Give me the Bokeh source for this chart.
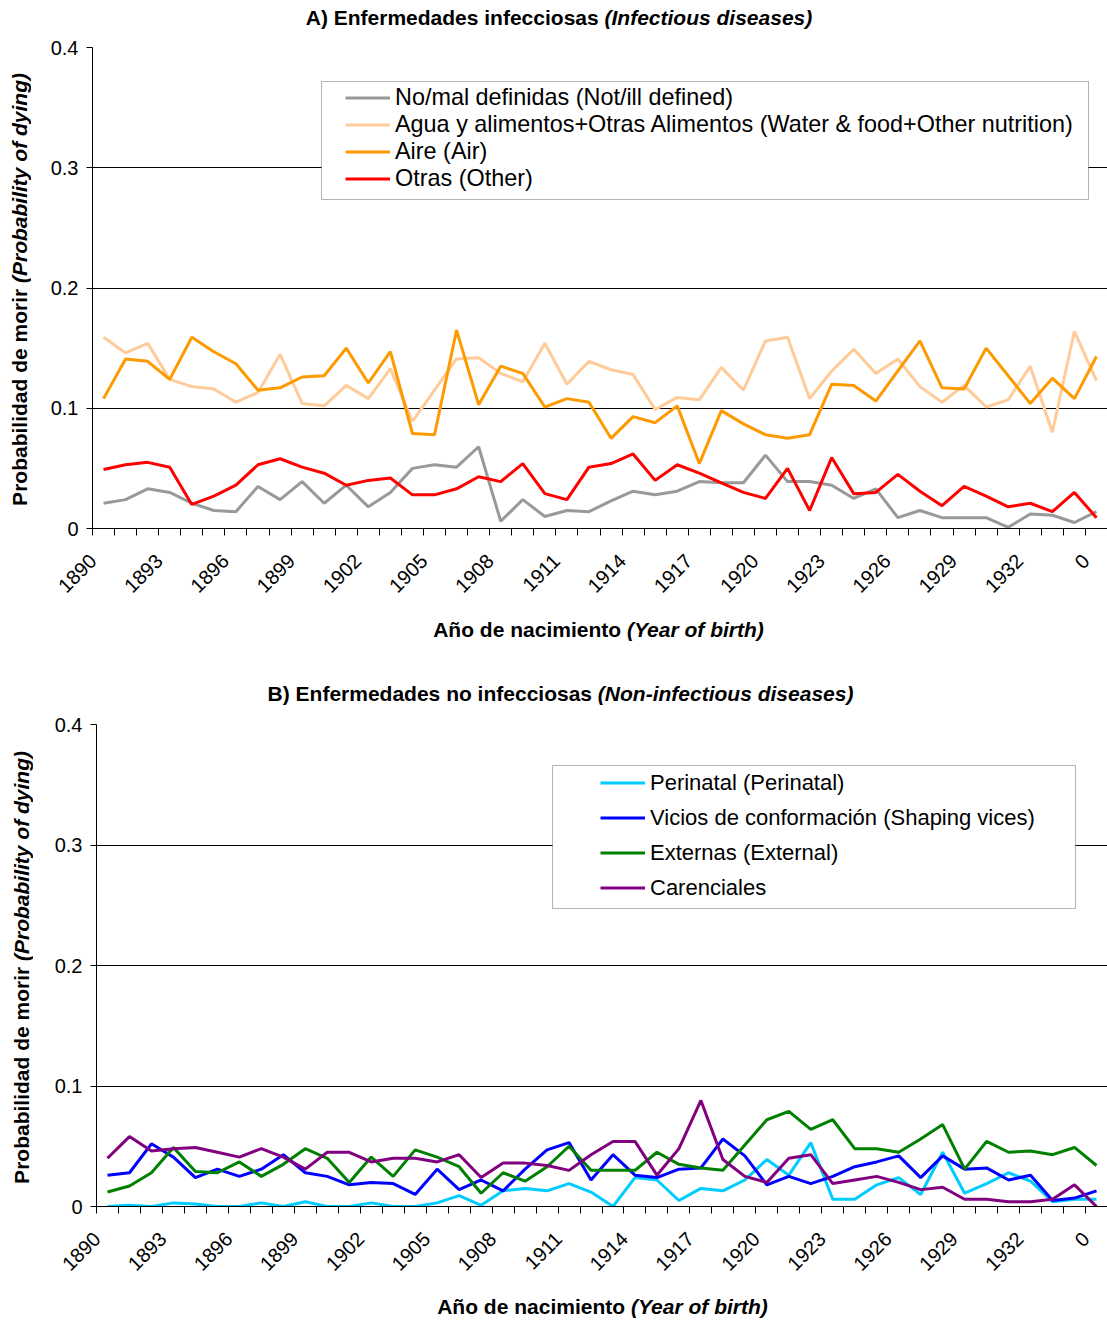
import math
from bokeh.plotting import figure
from bokeh.models import Range1d, FixedTicker, Legend, LegendItem, BoxAnnotation, NumeralTickFormatter, Div
from bokeh.layouts import column, row
from bokeh.embed import file_html
from bokeh.resources import INLINE

# ---------------- data ----------------
categories = ["1890", "1891", "1892", "1893", "1894", "1895", "1896", "1897", "1898", "1899",
              "1900", "1901", "1902", "1903", "1904", "1905", "1906", "1907", "1908", "1909",
              "1910", "1911", "1912", "1913", "1914", "1915", "1916", "1917", "1918", "1919",
              "1920", "1921", "1922", "1923", "1924", "1925", "1926", "1927", "1928", "1929",
              "1930", "1931", "1932", "1933", "1934", "0"]

# Panel A
no_mal = [0.021, 0.024, 0.033, 0.030, 0.021, 0.015, 0.014, 0.035, 0.024, 0.039, 0.021, 0.036, 0.018, 0.030,
          0.050, 0.053, 0.051, 0.068, 0.006, 0.024, 0.010, 0.015,
          0.014, 0.023, 0.031, 0.028, 0.031, 0.039, 0.038, 0.038, 0.061, 0.039, 0.039, 0.036, 0.025, 0.033,
          0.009, 0.015, 0.009, 0.009, 0.009, 0.001, 0.012, 0.011, 0.005, 0.014]
agua = [0.159, 0.146, 0.154, 0.124, 0.118, 0.116, 0.105, 0.113, 0.145, 0.104, 0.102, 0.119, 0.108, 0.133,
        0.089, 0.115, 0.141, 0.142, 0.129, 0.122, 0.154,
        0.120, 0.139, 0.132, 0.128, 0.099, 0.109, 0.107, 0.134, 0.115, 0.156, 0.159, 0.108, 0.131, 0.149,
        0.129, 0.141, 0.118, 0.105, 0.119, 0.101, 0.107, 0.135, 0.080, 0.164, 0.123]
aire = [0.108, 0.141, 0.139, 0.124, 0.159, 0.147, 0.137, 0.115, 0.117, 0.126, 0.127, 0.150, 0.121, 0.147,
        0.079, 0.078, 0.165, 0.103, 0.135, 0.129, 0.101,
        0.108, 0.105, 0.075, 0.093, 0.088, 0.102, 0.054, 0.098, 0.087, 0.078, 0.075, 0.078, 0.120, 0.119,
        0.106, 0.131, 0.156, 0.117, 0.116, 0.150, 0.127, 0.104, 0.125, 0.108, 0.143]
otras = [0.049, 0.053, 0.055, 0.051, 0.020, 0.027, 0.036, 0.053, 0.058, 0.051, 0.046, 0.036, 0.040, 0.042,
         0.028, 0.028, 0.033, 0.043, 0.039, 0.054, 0.029,
         0.024, 0.051, 0.054, 0.062, 0.040, 0.053, 0.046, 0.038, 0.030, 0.025, 0.050, 0.015, 0.059, 0.029,
         0.030, 0.045, 0.031, 0.019, 0.035, 0.027, 0.018, 0.021, 0.014, 0.030, 0.009]

# Panel B
perinatal = [0.000, 0.001, 0.000, 0.003, 0.002, 0.000, 0.000, 0.003, 0.000, 0.004, 0.000, 0.000, 0.003, 0.000,
             0.000, 0.003, 0.009, 0.001, 0.013, 0.015,
             0.013, 0.019, 0.012, 0.000, 0.024, 0.022, 0.005, 0.015, 0.013, 0.022, 0.039, 0.026, 0.053, 0.006,
             0.006, 0.018, 0.024, 0.010, 0.045, 0.011, 0.019, 0.028, 0.021, 0.004, 0.006, 0.006]
vicios = [0.026, 0.028, 0.052, 0.041, 0.024, 0.031, 0.025, 0.031, 0.043, 0.028, 0.025, 0.018, 0.020, 0.019,
          0.010, 0.031, 0.014, 0.022, 0.013, 0.031,
          0.047, 0.053, 0.022, 0.043, 0.026, 0.024, 0.031, 0.032, 0.056, 0.042, 0.018, 0.025, 0.019, 0.025,
          0.033, 0.037, 0.042, 0.024, 0.042, 0.031, 0.032, 0.022, 0.026, 0.005, 0.007, 0.013]
externas = [0.012, 0.017, 0.028, 0.049, 0.029, 0.028, 0.037, 0.025, 0.035, 0.048, 0.040, 0.020, 0.041, 0.025,
            0.047, 0.041, 0.033, 0.011, 0.028, 0.021,
            0.033, 0.050, 0.030, 0.030, 0.030, 0.045, 0.035, 0.032, 0.030, 0.051, 0.072, 0.079, 0.064, 0.072,
            0.048, 0.048, 0.045, 0.056, 0.068, 0.031, 0.054, 0.045, 0.046, 0.043, 0.049, 0.034]
carenciales = [0.040, 0.058, 0.046, 0.048, 0.049, 0.045, 0.041, 0.048, 0.041, 0.031, 0.045, 0.045, 0.037, 0.040,
               0.040, 0.037, 0.043, 0.024, 0.036, 0.036,
               0.034, 0.030, 0.043, 0.054, 0.054, 0.026, 0.048, 0.088, 0.039, 0.025, 0.020, 0.040, 0.043, 0.019,
               0.022, 0.025, 0.020, 0.014, 0.016, 0.006, 0.006, 0.004, 0.004, 0.006, 0.018, 0.000]

y_ticks = [0, 0.1, 0.2, 0.3, 0.4]

FONT = "Liberation Sans"
CSS_FONT = "'Liberation Sans', Arial, sans-serif"
N = len(categories)
xs = [i + 0.5 for i in range(N)]
TOTAL_W = 1107


def text_div(html, height, pad_left, pad_top):
    inner = (f'<div style="box-sizing:content-box; width:{TOTAL_W - pad_left}px; padding-left:{pad_left}px; '
             f'padding-top:{pad_top}px; text-align:center; font-family:{CSS_FONT}; font-size:21px; '
             f'font-weight:bold; line-height:21px; white-space:nowrap; color:#000;">{html}</div>')
    return Div(text=inner, width=TOTAL_W, height=height, margin=(0, 0, 0, 0))


def ytitle_div(html, width, height, box_h):
    inner = (f'<div style="width:{width}px; height:{box_h}px; display:flex; align-items:center; '
             f'justify-content:center;"><span style="writing-mode:vertical-rl; transform:rotate(180deg); '
             f'white-space:nowrap; font-family:{CSS_FONT}; font-size:21px; font-weight:bold; '
             f'line-height:24px; color:#000;">{html}</span></div>')
    return Div(text=inner, width=width, height=height, margin=(0, 0, 0, 0))


def make_panel(width, height, border_left, border_top, border_bottom, series, legend_loc, legend_row_h,
               legend_font, box):
    p = figure(width=width, height=height, output_backend="svg", toolbar_location=None,
               x_range=Range1d(0, N), y_range=Range1d(0, 0.4),
               min_border_left=border_left, min_border_right=0,
               min_border_top=border_top, min_border_bottom=border_bottom)
    p.outline_line_color = None
    p.background_fill_color = "white"
    p.xgrid.visible = False
    p.ygrid.ticker = FixedTicker(ticks=y_ticks)
    p.ygrid.grid_line_color = "black"
    p.ygrid.grid_line_width = 1

    # x axis: category axis, labels every 3 categories, tick marks between categories
    label_idx = list(range(0, N, 3))
    label_pos = [i + 0.02 for i in label_idx]
    p.xaxis.ticker = FixedTicker(ticks=label_pos, minor_ticks=list(range(N + 1)))
    p.xaxis.major_label_overrides = {pos: categories[i] for pos, i in zip(label_pos, label_idx)}
    p.xaxis.major_label_orientation = math.pi / 4
    p.xaxis.major_tick_out = 0
    p.xaxis.major_tick_in = 0
    p.xaxis.minor_tick_out = 7
    p.xaxis.minor_tick_in = 0
    p.xaxis.minor_tick_line_color = "black"
    p.xaxis.axis_line_color = "black"
    p.xaxis.major_label_text_font = FONT
    p.xaxis.major_label_text_font_size = "20px"
    p.xaxis.major_label_text_color = "black"
    p.xaxis.major_label_standoff = 22

    p.yaxis.ticker = FixedTicker(ticks=y_ticks)
    p.yaxis.formatter = NumeralTickFormatter(format="0.[0]")
    p.yaxis.minor_tick_line_color = None
    p.yaxis.major_tick_out = 6
    p.yaxis.major_tick_in = 0
    p.yaxis.major_tick_line_color = "black"
    p.yaxis.axis_line_color = "black"
    p.yaxis.major_label_text_font = FONT
    p.yaxis.major_label_text_font_size = "20px"
    p.yaxis.major_label_text_color = "black"
    p.yaxis.major_label_standoff = 8

    items = []
    for label, vals, color in series:
        r = p.line(xs, vals, line_color=color, line_width=3)
        items.append(LegendItem(label=label, renderers=[r]))

    bl, br, bt, bb = box
    p.add_layout(BoxAnnotation(left=bl, right=br, top=bt, bottom=bb, fill_color="white", fill_alpha=1,
                               line_color="black", line_width=1))
    legend = Legend(items=items, location=legend_loc, glyph_width=45, glyph_height=legend_row_h,
                    label_height=legend_row_h, label_standoff=5, spacing=0, padding=0, margin=0,
                    border_line_color=None, background_fill_alpha=0,
                    label_text_font=FONT, label_text_font_size=legend_font, label_text_color="black")
    p.add_layout(legend)
    return p


# ---------- panel A ----------
titleA = text_div("A) Enfermedades infecciosas <i>(Infectious diseases)</i>", 33, 11, 6.5)
pA = make_panel(
    TOTAL_W - 40, 577, 52, 14, 82,
    [("No/mal definidas (Not/ill defined)", no_mal, "#999999"),
     ("Agua y alimentos+Otras Alimentos (Water & food+Other nutrition)", agua, "#FFCC99"),
     ("Aire (Air)", aire, "#FF9900"),
     ("Otras (Other)", otras, "#FF0000")],
    (253, 336), 27, "23.4px",
    (10.38, 45.14, 0.3717, 0.2736),
)
yA = ytitle_div("Probabilidad de morir <i>(Probability of dying)</i>", 40, 577, 512)
xA = text_div("Año de nacimiento <i>(Year of birth)</i>", 38, 90, 8.5)

# ---------- panel B ----------
titleB = text_div("B) Enfermedades no infecciosas <i>(Non-infectious diseases)</i>", 62, 14, 34.5)
pB = make_panel(
    TOTAL_W - 44, 575, 52, 14, 79,
    [("Perinatal (Perinatal)", perinatal, "#00CCFF"),
     ("Vicios de conformación (Shaping vices)", vicios, "#0000FF"),
     ("Externas (External)", externas, "#008000"),
     ("Carenciales", carenciales, "#800080")],
    (504, 301), 35, "22px",
    (20.75, 44.54, 0.366, 0.2473),
)
yB = ytitle_div("Probabilidad de morir <i>(Probability of dying)</i>", 44, 575, 514)
xB = text_div("Año de nacimiento <i>(Year of birth)</i>", 33, 98, 10.5)

layout = column(titleA, row(yA, pA, spacing=0), xA, titleB, row(yB, pB, spacing=0), xB, spacing=0)
open("out.html", "w", encoding="utf-8").write(file_html(layout, INLINE))
